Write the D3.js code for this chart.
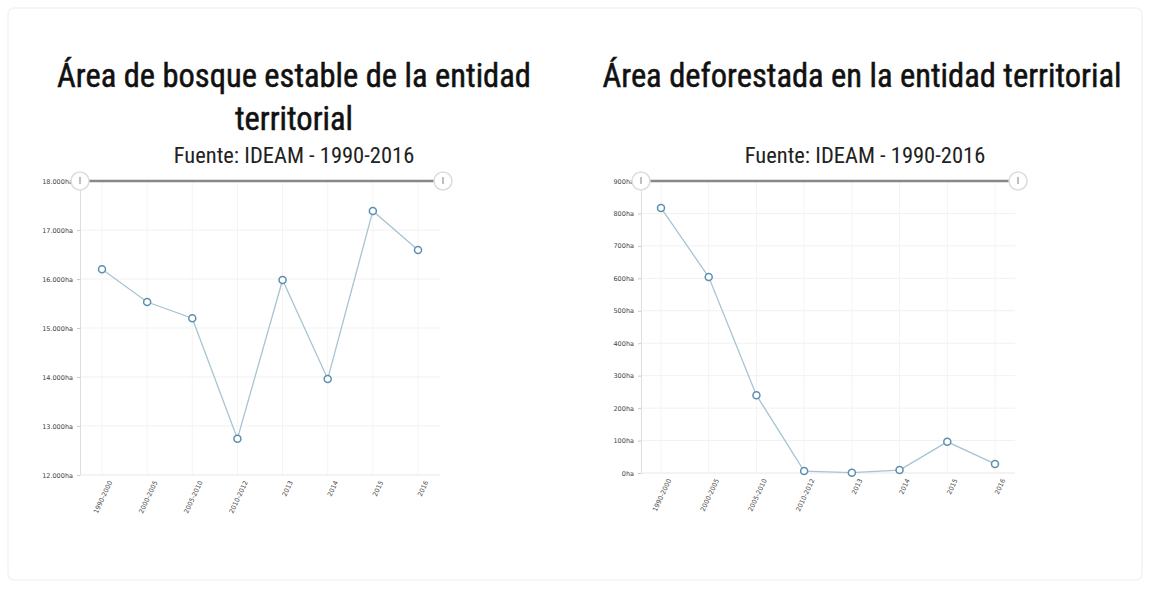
<!DOCTYPE html>
<html><head><meta charset="utf-8">
<script src="https://cdn.jsdelivr.net/npm/d3@7"></script>
<style>
html,body{margin:0;padding:0;background:#fff;}
svg{display:block;}
</style></head>
<body>
<svg id="c" width="1150" height="589"></svg>
<script>
const categories = ["1990-2000","2000-2005","2005-2010","2010-2012","2013","2014","2015","2016"];
const stableValues = [16200, 15530, 15200, 12740, 15980, 13960, 17390, 16590];
const deforestValues = [817, 604, 240, 6, 1, 9, 96, 28];
const stableTicks = [12000,13000,14000,15000,16000,17000,18000];
const deforestTicks = [0,100,200,300,400,500,600,700,800,900];
const titleLeft = ["Área de bosque estable de la entidad", "territorial"];
const titleRight = ["Área deforestada en la entidad territorial"];
const subtitle = "Fuente: IDEAM - 1990-2016";

const svg = d3.select("#c");
svg.append("rect").attr("x",8).attr("y",8).attr("width",1134).attr("height",572)
  .attr("rx",6).attr("fill","#fff").attr("stroke","#f3f3f3").attr("stroke-width",1.5);

const fmt = v => d3.format(",")(v).replace(/,/g,".") + "ha";

function chart(opt){
  const g = svg.append("g");
  const titleFont = "'Liberation Sans Narrow','Roboto Condensed','Roboto',sans-serif";
  opt.title.forEach((t,i)=>{
    g.append("text").attr("x",opt.cx).attr("y",opt.titleY + i*43)
      .attr("text-anchor","middle").attr("font-family",titleFont)
      .attr("font-size",32.5).attr("fill","#111")
      .attr("stroke","#111").attr("stroke-width",0.5).text(t);
  });
  g.append("text").attr("x",opt.subX).attr("y",opt.subY).attr("text-anchor","middle")
    .attr("font-family",titleFont).attr("font-size",22.5).attr("fill","#222").text(subtitle);

  const x = d3.scalePoint().domain(categories).range([opt.x0+opt.pad, opt.x1-opt.pad]);
  const y = d3.scaleLinear().domain(opt.domain).range([opt.y1, opt.y0]);

  // gridlines
  g.append("g").selectAll("line").data(opt.ticks).join("line")
    .attr("x1",opt.x0).attr("x2",opt.x1).attr("y1",d=>y(d)).attr("y2",d=>y(d))
    .attr("stroke","#f1f1f1").attr("stroke-width",1);
  g.append("g").selectAll("line").data(categories).join("line")
    .attr("x1",d=>x(d)).attr("x2",d=>x(d)).attr("y1",opt.y0).attr("y2",opt.y1)
    .attr("stroke","#f4f4f4").attr("stroke-width",1);

  // y axis
  const ya = d3.axisLeft(y).tickValues(opt.ticks).tickFormat(fmt).tickSize(3).tickPadding(4);
  const yg = g.append("g").attr("transform",`translate(${opt.x0},0)`).call(ya);
  yg.select(".domain").attr("stroke","#ddd");
  yg.selectAll(".tick line").attr("stroke","#ccc");
  yg.selectAll("text").attr("font-family","'DejaVu Sans',sans-serif").attr("font-size",6.5).attr("fill","#444");

  // x axis
  const xa = d3.axisBottom(x).tickSize(0).tickPadding(8);
  const xg = g.append("g").attr("transform",`translate(0,${opt.y1})`).call(xa);
  xg.select(".domain").attr("stroke","#eee").attr("d",`M${opt.x0},0H${opt.x1}`);
  xg.selectAll("text").attr("font-family","'DejaVu Sans',sans-serif").attr("font-size",6.5).attr("fill","#444")
    .attr("text-anchor","end").attr("dx","-2").attr("dy","4")
    .attr("transform","rotate(-65)");

  // navigator bar
  g.append("line").attr("x1",opt.x0).attr("x2",opt.navX1).attr("y1",opt.y0).attr("y2",opt.y0)
    .attr("stroke","#888").attr("stroke-width",2.5);
  [opt.x0, opt.navX1].forEach(hx=>{
    g.append("circle").attr("cx",hx).attr("cy",opt.y0).attr("r",9)
      .attr("fill","#fff").attr("stroke","#ddd").attr("stroke-width",1.5);
    g.append("line").attr("x1",hx).attr("x2",hx).attr("y1",opt.y0-4).attr("y2",opt.y0+3)
      .attr("stroke","#aaa").attr("stroke-width",1.5);
  });

  const line = d3.line().x((d,i)=>x(categories[i])).y(d=>y(d));
  g.append("path").datum(opt.values).attr("d",line).attr("fill","none")
    .attr("stroke","#a8c4d2").attr("stroke-width",1.3);
  g.append("g").selectAll("circle").data(opt.values).join("circle")
    .attr("cx",(d,i)=>x(categories[i])).attr("cy",d=>y(d)).attr("r",3.5)
    .attr("fill","#fff").attr("stroke","#5b8fae").attr("stroke-width",1.5);
}

chart({title:titleLeft, cx:294, titleY:87, subX:294, subY:163,
  x0:80, x1:440, pad:22, y0:181, y1:475, navX1:443,
  domain:[12000,18000], ticks:stableTicks, values:stableValues});
chart({title:titleRight, cx:862, titleY:87, subX:865, subY:163,
  x0:641, x1:1015, pad:20, y0:181, y1:473, navX1:1018,
  domain:[0,900], ticks:deforestTicks, values:deforestValues});
</script>
</body></html>
